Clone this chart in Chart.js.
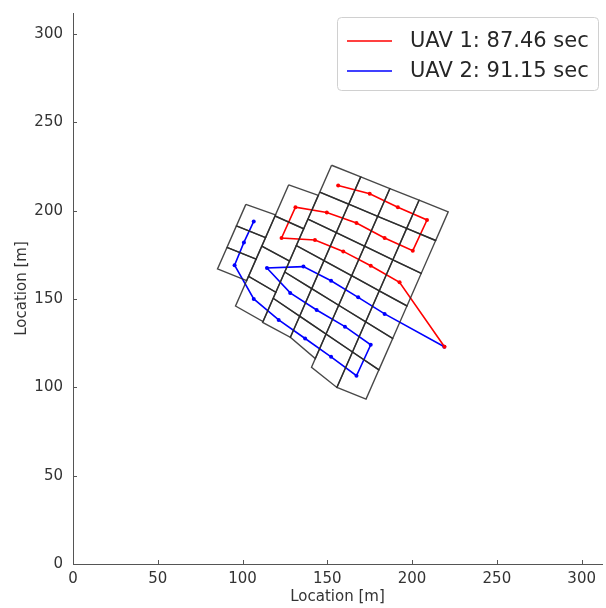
<!DOCTYPE html>
<html>
<head>
<meta charset="utf-8">
<script src="https://cdn.jsdelivr.net/npm/chart.js@4"></script>
<style>
  html, body { margin: 0; padding: 0; background: #fff; }
  #wrap { width: 606px; height: 608px; }
</style>
</head>
<body>
<div id="wrap"><canvas id="pathChart"></canvas></div>
<script>
// Tick values of both axes
const tickValues = [0, 50, 100, 150, 200, 250, 300];

// UAV 1 (red) flight path, starting at the depot
const uav1X = [219.1, 192.6, 175.6, 159.4, 142.7, 123.0, 131.2, 149.7, 167.2, 183.8, 200.4, 208.8, 191.6, 175.0, 156.4];
const uav1Y = [123.0, 159.5, 168.9, 177.0, 183.5, 184.6, 202.0, 199.0, 193.1, 184.6, 177.4, 194.8, 202.0, 209.6, 214.3];

// UAV 2 (blue) flight path, starting at the depot
const uav2X = [219.0, 183.8, 168.2, 152.2, 135.9, 114.4, 128.1, 143.7, 160.4, 175.6, 167.2, 152.2, 136.9, 121.3, 106.6, 95.3, 100.8, 106.6];
const uav2Y = [123.0, 141.6, 151.0, 160.4, 168.4, 167.6, 153.5, 143.8, 134.4, 124.1, 106.6, 117.3, 127.7, 138.2, 150.1, 169.2, 182.1, 194.0];

const uavLabels = ['UAV 1: 87.46 sec', 'UAV 2: 91.15 sec'];

// Rotated grid of cells: origin (top corner), column step and row step in metres
const gridOrigin = [152.5, 225.8];
const gridU = [17.2, -6.6];
const gridV = [-5.57, -12.19];
// column index, then row boundaries (in row steps) on its left and right edge
const gridCols = [-2, -1, 0, 1, 2, 3];
const gridLeftB = [
    [2.9, 3.9, 4.9, 5.9],
    [1.45, 2.9, 4.3, 5.7, 7.08],
    [0, 1.25, 2.5, 3.73, 4.96, 6.18, 7.3],
    [0, 1.27, 2.59, 3.89, 5.19, 6.47, 7.45],
    [0, 1.29, 2.68, 4.05, 5.42, 6.76, 8.3],
    [0, 1.31, 2.77, 4.21, 5.65, 7.05, 8.7]
];
const gridRightB = [
    [2.85, 3.9, 4.9, 5.9],
    [1.4, 2.95, 4.45, 5.9, 7.26],
    [0, 1.27, 2.59, 3.89, 5.19, 6.47, 7.45],
    [0, 1.29, 2.68, 4.05, 5.42, 6.76, 7.9],
    [0, 1.31, 2.77, 4.21, 5.65, 7.05, 8.7],
    [0, 1.33, 2.86, 4.37, 5.88, 7.34, 8.7]
];

function gridPoint(a, b) {
    return {
        x: gridOrigin[0] + a * gridU[0] + b * gridV[0],
        y: gridOrigin[1] + a * gridU[1] + b * gridV[1]
    };
}

// one closed outline per cell
const cellSets = [];
gridCols.forEach((a, i) => {
    const left = gridLeftB[i];
    const right = gridRightB[i];
    for (let k = 0; k < left.length - 1; k++) {
        const p1 = gridPoint(a, left[k]);
        cellSets.push({
            data: [p1, gridPoint(a + 1, right[k]), gridPoint(a + 1, right[k + 1]), gridPoint(a, left[k + 1]), p1],
            showLine: true,
            borderColor: 'rgba(40,40,40,0.85)',
            borderWidth: 1.4,
            pointRadius: 0,
            pointHoverRadius: 0
        });
    }
});

function toPoints(xs, ys) {
    return xs.map((x, i) => ({ x: x, y: ys[i] }));
}

const uavColors = ['#ff0000', '#0000ff'];

const pathSets = [
    {
        label: uavLabels[0],
        data: toPoints(uav1X, uav1Y),
        showLine: true,
        borderColor: uavColors[0],
        backgroundColor: uavColors[0],
        borderWidth: 1.6,
        pointRadius: 2,
        pointBorderWidth: 0
    },
    {
        label: uavLabels[1],
        data: toPoints(uav2X, uav2Y),
        showLine: true,
        borderColor: uavColors[1],
        backgroundColor: uavColors[1],
        borderWidth: 1.6,
        pointRadius: 2,
        pointBorderWidth: 0
    }
];

// small inward tick marks like matplotlib
const innerTicks = {
    id: 'innerTicks',
    afterDraw(chart) {
        const ctx = chart.ctx;
        const xs = chart.scales.x;
        const ys = chart.scales.y;
        ctx.save();
        ctx.strokeStyle = '#555';
        ctx.lineWidth = 1;
        tickValues.forEach(v => {
            const px = Math.round(xs.getPixelForValue(v)) + 0.5;
            ctx.beginPath();
            ctx.moveTo(px, ys.bottom);
            ctx.lineTo(px, ys.bottom - 4);
            ctx.stroke();
            const py = Math.round(ys.getPixelForValue(v)) + 0.5;
            ctx.beginPath();
            ctx.moveTo(xs.left, py);
            ctx.lineTo(xs.left + 4, py);
            ctx.stroke();
        });
        ctx.restore();
    }
};

// boxed legend in the upper right corner
const boxLegend = {
    id: 'boxLegend',
    afterDraw(chart) {
        const ctx = chart.ctx;
        const x0 = 337, y0 = 17, w = 261, h = 73;
        ctx.save();
        ctx.fillStyle = 'rgba(255,255,255,0.9)';
        ctx.strokeStyle = '#d0d0d0';
        ctx.lineWidth = 1;
        ctx.beginPath();
        ctx.roundRect(x0 + 0.5, y0 + 0.5, w, h, 4);
        ctx.fill();
        ctx.stroke();
        ctx.font = '21px "DejaVu Sans"';
        ctx.textBaseline = 'middle';
        uavLabels.forEach((lab, i) => {
            const ly = y0 + 24 + i * 30;
            ctx.strokeStyle = uavColors[i];
            ctx.lineWidth = 1.6;
            ctx.beginPath();
            ctx.moveTo(x0 + 10, ly);
            ctx.lineTo(x0 + 55, ly);
            ctx.stroke();
            ctx.fillStyle = '#262626';
            ctx.fillText(lab, x0 + 73, ly + 1);
        });
        ctx.restore();
    }
};

const tickFont = { family: 'DejaVu Sans', size: 15 };

new Chart(document.getElementById('pathChart'), {
    type: 'scatter',
    data: { datasets: cellSets.concat(pathSets) },
    options: {
        responsive: true,
        maintainAspectRatio: false,
        animation: false,
        layout: { padding: { top: 13, right: 1, left: 0, bottom: 0 } },
        plugins: {
            legend: { display: false },
            tooltip: { enabled: false }
        },
        scales: {
            x: {
                type: 'linear',
                min: 0,
                max: 312,
                afterBuildTicks: (scale) => { scale.ticks = tickValues.map(v => ({ value: v })); },
                afterFit: (scale) => {
                    scale.height = 44;
                    scale.paddingLeft = 0;
                    scale.paddingRight = 0;
                },
                ticks: { font: tickFont, color: '#333', padding: 6, maxRotation: 0 },
                grid: { display: false, drawTicks: false },
                border: { color: '#555', width: 1 },
                title: { display: true, text: 'Location [m]', font: tickFont, color: '#333', padding: { top: 0, bottom: 2 } }
            },
            y: {
                type: 'linear',
                min: 0,
                max: 312,
                afterBuildTicks: (scale) => { scale.ticks = tickValues.map(v => ({ value: v })); },
                afterFit: (scale) => {
                    scale.width = 73;
                    scale.paddingTop = 0;
                    scale.paddingBottom = 0;
                },
                ticks: { font: tickFont, color: '#333', padding: 10 },
                grid: { display: false, drawTicks: false },
                border: { color: '#555', width: 1 },
                title: { display: true, text: 'Location [m]', font: tickFont, color: '#333', padding: { top: 13, bottom: 0 } }
            }
        }
    },
    plugins: [innerTicks, boxLegend]
});
</script>
</body>
</html>
